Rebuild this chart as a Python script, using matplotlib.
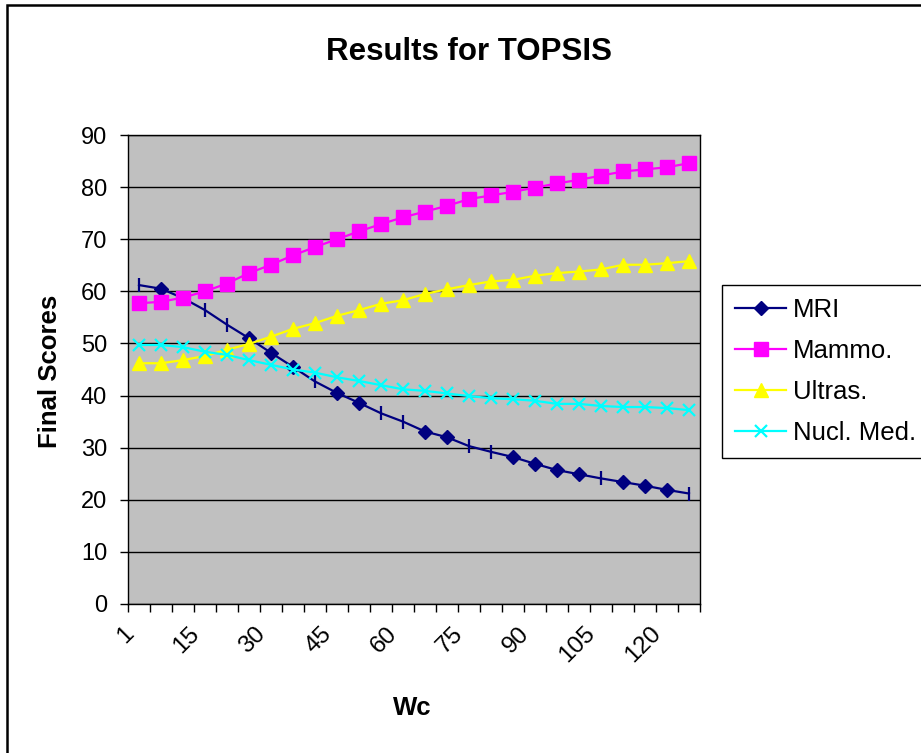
import matplotlib.pyplot as plt
from matplotlib.lines import Line2D
from matplotlib.patches import Rectangle
from matplotlib.transforms import ScaledTranslation

plt.rcParams['font.family'] = ['Liberation Sans', 'DejaVu Sans']

# Data
wc = [1, 5, 10, 15, 20, 25, 30, 35, 40, 45, 50, 55, 60, 65, 70, 75, 80, 85,
      90, 95, 100, 105, 110, 115, 120, 125]
wc_labels = ['1', '15', '30', '45', '60', '75', '90', '105', '120']
mri = [61.2, 60.5, 58.7, 56.4, 53.6, 51.0, 48.2, 45.5, 42.7, 40.5, 38.6, 36.6, 35.0,
       33.1, 32.0, 30.3, 29.2, 28.2, 26.9, 25.7, 24.9, 24.1, 23.4, 22.7, 21.9, 21.2]
mammo = [57.7, 58.0, 58.8, 60.0, 61.5, 63.5, 65.1, 66.9, 68.5, 70.0, 71.5, 72.9, 74.2,
         75.3, 76.4, 77.7, 78.4, 79.1, 79.9, 80.7, 81.4, 82.2, 83.0, 83.4, 83.8, 84.6]
ultras = [46.2, 46.2, 46.8, 47.6, 48.8, 49.9, 51.3, 52.8, 53.9, 55.3, 56.4, 57.6, 58.3,
          59.5, 60.4, 61.2, 61.9, 62.2, 63.0, 63.5, 63.8, 64.2, 65.1, 65.1, 65.4, 65.8]
nucl = [49.7, 49.7, 49.3, 48.4, 47.8, 46.8, 45.9, 45.0, 44.4, 43.5, 42.8, 42.0, 41.2,
        40.9, 40.4, 39.9, 39.5, 39.3, 39.0, 38.4, 38.4, 38.0, 37.8, 37.8, 37.6, 37.2]

# MRI points where the marker shows up as a vertical bar in the original
bar_idx = [0, 3, 4, 8, 11, 12, 15, 16, 21, 25]

fig = plt.figure(figsize=(9.21, 7.53), dpi=100)
ax = fig.add_axes([128/921, 1-604/753, (700-128)/921, (604-135)/753])
ax.set_facecolor('#C0C0C0')

x = list(range(len(wc)))
diam_idx = [i for i in x if i not in bar_idx]

navy = '#000080'
ax.plot(x, mri, color=navy, lw=1.6, zorder=3)
ax.plot(x, mri, ls='none', marker='D', ms=7, color=navy, markevery=diam_idx, zorder=3)
ax.plot(x, mri, ls='none', marker='|', ms=10, mew=1.6, color=navy, markevery=bar_idx, zorder=3)
ax.plot(x, mammo, color='#FF00FF', lw=1.6, marker='s', ms=9.5, zorder=4)
ax.plot(x, ultras, color='#FFFF00', lw=1.6, marker='^', ms=10, zorder=5)
ax.plot(x, nucl, color='#00FFFF', lw=1.6, marker='x', ms=9, mew=1.6, zorder=6)

ax.set_xlim(-0.5, len(wc) - 0.5)
ax.set_ylim(0, 90)
ax.set_yticks(range(0, 91, 10))
ax.yaxis.grid(True, color='black', lw=1)
ax.set_axisbelow(True)

# tick marks between categories, labels on every third category
ax.set_xticks([i - 0.5 for i in range(len(wc) + 1)])
ax.set_xticklabels([])
ax.set_xticks(x[::3], minor=True)
ax.set_xticklabels(wc_labels, minor=True, rotation=45, ha='right', va='center',
                   rotation_mode='anchor', fontsize=17.5)
ax.tick_params(axis='x', which='major', direction='out', length=6, width=1)
ax.tick_params(axis='x', which='minor', length=0, pad=19)
ax.tick_params(axis='y', direction='out', length=6, width=1, pad=9, labelsize=17)
shift = ScaledTranslation(-9/100, 0, fig.dpi_scale_trans)
for lab in ax.get_xticklabels(minor=True):
    lab.set_transform(lab.get_transform() + shift)

for s in ax.spines.values():
    s.set_color('black')
    s.set_linewidth(1)

fig.text(469/921, 1-52/753, 'Results for TOPSIS', ha='center', va='center',
         fontsize=22.5, fontweight='bold')
fig.text(50/921, 1-371/753, 'Final Scores', ha='center', va='center', rotation=90,
         fontsize=18.5, fontweight='bold')
fig.text(412/921, 1-708/753, 'Wc', ha='center', va='center',
         fontsize=18.5, fontweight='bold')

handles = [
    Line2D([], [], color=navy, lw=1.6, marker='D', ms=7),
    Line2D([], [], color='#FF00FF', lw=1.6, marker='s', ms=9.5),
    Line2D([], [], color='#FFFF00', lw=1.6, marker='^', ms=10),
    Line2D([], [], color='#00FFFF', lw=1.6, marker='x', ms=9, mew=1.6),
]
leg = fig.legend(handles, ['MRI', 'Mammo.', 'Ultras.', 'Nucl. Med.'],
                 loc='upper left', bbox_to_anchor=(722/921, 1-285/753),
                 fontsize=18.5, frameon=True, fancybox=False, framealpha=1,
                 edgecolor='black', borderpad=0.5, handlelength=2.0,
                 handletextpad=0.25, labelspacing=0.66, borderaxespad=0)
leg.get_frame().set_linewidth(1)

# outer chart border (runs off the right and bottom edge)
fig.patches.append(Rectangle((7/921, -0.1), 1.0, 1.1 - 5/753, transform=fig.transFigure,
                             fill=False, ec='black', lw=1.8))

fig.savefig('out.png', dpi=100)
